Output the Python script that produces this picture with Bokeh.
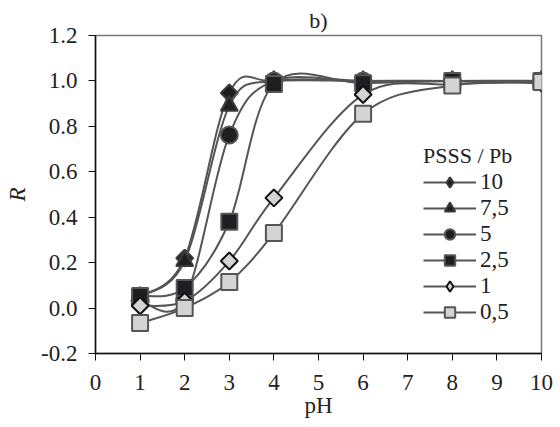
import math
from bokeh.plotting import figure
from bokeh.models import Range1d, FixedTicker, PrintfTickFormatter, Legend, LegendItem, ColumnDataSource
from bokeh.embed import file_html
from bokeh.resources import INLINE

ph = [1, 2, 3, 4, 6, 8, 10]
ratio_labels = ["10", "7,5", "5", "2,5", "1", "0,5"]
r_10 = [0.05, 0.22, 0.947, 1.00, 1.00, 1.00, 0.99]
r_7_5 = [0.05, 0.207, 0.89, 1.00, 1.00, 1.00, 1.00]
r_5 = [0.03, 0.04, 0.762, 1.00, 1.00, 1.00, 1.00]
r_2_5 = [0.053, 0.088, 0.38, 0.987, 0.99, 1.00, 1.00]
r_1 = [0.01, 0.03, 0.207, 0.485, 0.94, 0.985, 0.995]
r_0_5 = [-0.066, 0.00, 0.115, 0.33, 0.855, 0.98, 0.995]
series = [r_10, r_7_5, r_5, r_2_5, r_1, r_0_5]

plot_markers = ["square", "triangle", "circle", "square", "square", "square"]
legend_markers = ["diamond", "triangle", "circle", "square", "diamond", "square"]
angles = [math.pi / 4, 0, 0, 0, math.pi / 4, 0]
DARK = "#1e1e22"
LIGHT = "#d4d4d4"
fills = [DARK, DARK, DARK, DARK, LIGHT, LIGHT]
outlines = ["#3a3a3a", "#3a3a3a", "#555555", "#555555", "#111111", "#555555"]
sizes = [12, 17, 17, 16, 12, 16]

FONT = "Times New Roman"
TXT = "#222222"
LINE = "#555555"

p = figure(width=560, height=427, output_backend="svg", toolbar_location=None,
           x_range=Range1d(0, 10), y_range=Range1d(-0.2, 1.2),
           min_border_left=95, min_border_right=19, min_border_top=35, min_border_bottom=74,
           title="b)")
p.title.align = "center"
p.title.text_font = FONT
p.title.text_font_size = "22px"
p.title.text_font_style = "normal"
p.title.text_color = TXT
p.title.standoff = 6

p.grid.visible = False
p.background_fill_color = "white"
p.border_fill_color = "white"
p.outline_line_color = "#777777"
p.outline_line_width = 1.5

for ax in (p.xaxis[0], p.yaxis[0]):
    ax.axis_line_color = "#111111"
    ax.axis_line_width = 1.5
    ax.major_tick_line_color = "#111111"
    ax.major_tick_line_width = 1
    ax.major_tick_out = 7
    ax.major_tick_in = 0
    ax.minor_tick_line_color = None
    ax.major_label_text_font = FONT
    ax.major_label_text_font_size = "23px"
    ax.major_label_text_color = TXT
    ax.axis_label_text_font = FONT
    ax.axis_label_text_font_size = "23px"
    ax.axis_label_text_color = TXT

p.xaxis.ticker = FixedTicker(ticks=list(range(0, 11)))
p.xaxis.major_label_standoff = 14
p.xaxis.axis_label = "pH"
p.xaxis.axis_label_standoff = 0
p.xaxis.axis_label_text_font_style = "normal"

p.yaxis.ticker = FixedTicker(ticks=[-0.2, 0.0, 0.2, 0.4, 0.6, 0.8, 1.0, 1.2])
p.yaxis.formatter = PrintfTickFormatter(format="%.1f")
p.yaxis.major_label_standoff = 11
p.yaxis.axis_label = "R"
p.yaxis.axis_label_text_font_style = "italic"
p.yaxis.axis_label_standoff = 8


def bezier_segments(xs, ys, t=1.0 / 6.0):
    n = len(xs)
    d = dict(x0=[], y0=[], x1=[], y1=[], cx0=[], cy0=[], cx1=[], cy1=[])
    for i in range(n - 1):
        xm1, ym1 = (xs[i - 1], ys[i - 1]) if i > 0 else (xs[i], ys[i])
        xp2, yp2 = (xs[i + 2], ys[i + 2]) if i + 2 < n else (xs[i + 1], ys[i + 1])
        d["x0"].append(xs[i]); d["y0"].append(ys[i])
        d["x1"].append(xs[i + 1]); d["y1"].append(ys[i + 1])
        d["cx0"].append(xs[i] + (xs[i + 1] - xm1) * t)
        d["cy0"].append(ys[i] + (ys[i + 1] - ym1) * t)
        d["cx1"].append(xs[i + 1] - (xp2 - xs[i]) * t)
        d["cy1"].append(ys[i + 1] - (yp2 - ys[i]) * t)
    return d


items = []
for ys, lab, m, lm, ang, fc, oc, sz in zip(series, ratio_labels, plot_markers, legend_markers,
                                            angles, fills, outlines, sizes):
    src = ColumnDataSource(bezier_segments(ph, ys))
    p.bezier(x0="x0", y0="y0", x1="x1", y1="y1", cx0="cx0", cy0="cy0", cx1="cx1", cy1="cy1",
             source=src, line_color=LINE, line_width=2)
    p.scatter(ph, ys, marker=m, angle=ang, size=sz, fill_color=fc, line_color=oc, line_width=2)
    # legend-only renderers (placed outside the visible range)
    dummy_line = p.line([0, 1], [-5, -5], line_color=LINE, line_width=2)
    dummy_mark = p.scatter([0], [-5], marker=lm, size=sz, fill_color=fc, line_color=oc, line_width=2)
    items.append(LegendItem(label=lab, renderers=[dummy_line, dummy_mark]))

legend = Legend(items=items, location=(328, 28), title="PSSS / Pb",
                title_text_font=FONT, title_text_font_size="22px", title_text_font_style="normal",
                title_text_color=TXT, title_standoff=0,
                label_text_font=FONT, label_text_font_size="23px", label_text_color=TXT,
                glyph_width=53, glyph_height=26, label_height=26, spacing=0, padding=0, margin=0,
                label_standoff=4, background_fill_alpha=0, border_line_color=None)
p.add_layout(legend)

open("out.html", "w").write(file_html(p, INLINE))
